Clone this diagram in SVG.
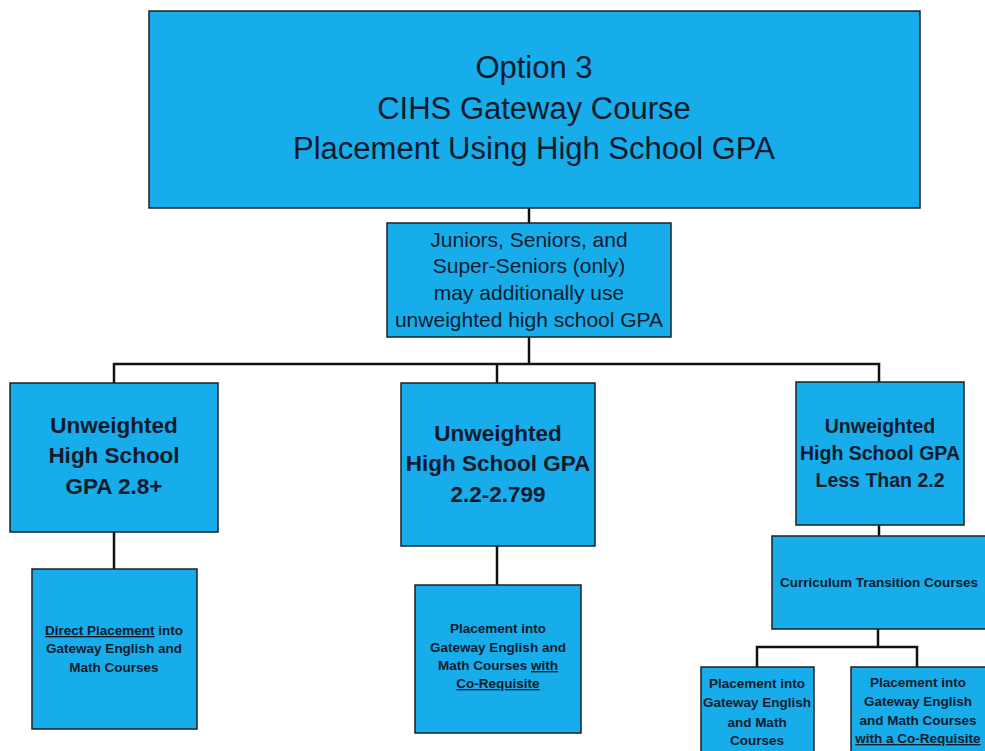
<svg xmlns="http://www.w3.org/2000/svg" width="985" height="751" viewBox="0 0 985 751">
<style>
  .box { fill: #16ADEA; stroke: #1b1f24; stroke-width: 1.5; }
  .conn { fill: none; stroke: #111; stroke-width: 2.5; }
  text { font-family: "Liberation Sans", Arial, sans-serif; fill: #0f1b2d; text-anchor: middle; }
  .t1 { font-size: 31px; }
  .t2 { font-size: 21px; }
  .t3 { font-size: 22.5px; font-weight: bold; }
  .t3s { font-size: 19.5px; font-weight: bold; }
  .t4 { font-size: 13.5px; font-weight: bold; }
  .u { text-decoration: underline; }
</style>
<rect width="985" height="751" fill="#ffffff"/>
<g id="connectors">
  <path class="conn" d="M529 208 V223"/>
  <path class="conn" d="M529 337 V364"/>
  <path class="conn" d="M114 383 V364 H879 V382"/>
  <path class="conn" d="M497 364 V383"/>
  <path class="conn" d="M114 532 V569"/>
  <path class="conn" d="M497 546 V585"/>
  <path class="conn" d="M879 525 V536"/>
  <path class="conn" d="M878 629 V647"/>
  <path class="conn" d="M757 667 V647 H917 V667"/>
</g>
<g id="title">
  <rect class="box" x="149" y="11" width="771" height="197"/>
  <text class="t1" x="534" y="78">Option 3</text>
  <text class="t1" x="534" y="119">CIHS Gateway Course</text>
  <text class="t1" x="534" y="159">Placement Using High School GPA</text>
</g>
<g id="juniors">
  <rect class="box" x="387" y="223" width="284" height="114"/>
  <text class="t2" x="529" y="247">Juniors, Seniors, and</text>
  <text class="t2" x="529" y="273">Super-Seniors (only)</text>
  <text class="t2" x="529" y="300">may additionally use</text>
  <text class="t2" x="529" y="327">unweighted high school GPA</text>
</g>
<g id="gpa-high">
  <rect class="box" x="10" y="383" width="208" height="149"/>
  <text class="t3" x="114" y="433">Unweighted</text>
  <text class="t3" x="114" y="463">High School</text>
  <text class="t3" x="114" y="494">GPA 2.8+</text>
</g>
<g id="direct-placement">
  <rect class="box" x="32" y="569" width="165" height="160"/>
  <text class="t4" x="114" y="635"><tspan class="u">Direct Placement</tspan> into</text>
  <text class="t4" x="114" y="653">Gateway English and</text>
  <text class="t4" x="114" y="672">Math Courses</text>
</g>
<g id="gpa-mid">
  <rect class="box" x="401" y="383" width="194" height="163"/>
  <text class="t3" x="498" y="441">Unweighted</text>
  <text class="t3" x="498" y="471">High School GPA</text>
  <text class="t3" x="498" y="502">2.2-2.799</text>
</g>
<g id="coreq-placement">
  <rect class="box" x="415" y="585" width="166" height="148"/>
  <text class="t4" x="498" y="633">Placement into</text>
  <text class="t4" x="498" y="652">Gateway English and</text>
  <text class="t4" x="498" y="670">Math Courses <tspan class="u">with</tspan></text>
  <text class="t4" x="498" y="688"><tspan class="u">Co-Requisite</tspan></text>
</g>
<g id="gpa-low">
  <rect class="box" x="796" y="382" width="168" height="143"/>
  <text class="t3s" x="880" y="433">Unweighted</text>
  <text class="t3s" x="880" y="460">High School GPA</text>
  <text class="t3s" x="880" y="487">Less Than 2.2</text>
</g>
<g id="transition">
  <rect class="box" x="772" y="536" width="216" height="93"/>
  <text class="t4" x="879" y="587">Curriculum Transition Courses</text>
</g>
<g id="low-placement">
  <rect class="box" x="701" y="667" width="113" height="90"/>
  <text class="t4" x="757" y="688">Placement into</text>
  <text class="t4" x="757" y="707">Gateway English</text>
  <text class="t4" x="757" y="727">and Math</text>
  <text class="t4" x="757" y="745">Courses</text>
</g>
<g id="low-coreq">
  <rect class="box" x="851" y="667" width="137" height="90"/>
  <text class="t4" x="918" y="687">Placement into</text>
  <text class="t4" x="918" y="706">Gateway English</text>
  <text class="t4" x="918" y="725">and Math Courses</text>
  <text class="t4" x="918" y="743"><tspan class="u">with a Co-Requisite</tspan></text>
</g>
</svg>
